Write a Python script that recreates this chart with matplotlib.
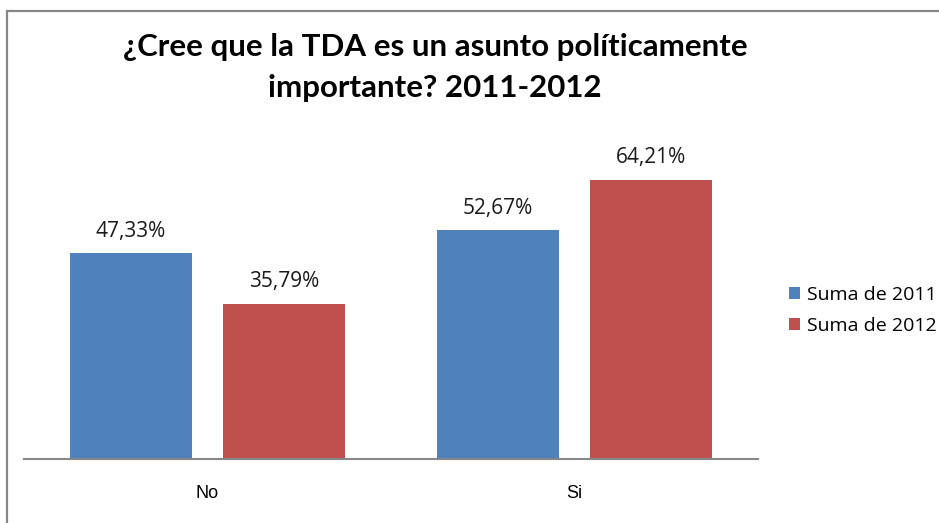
import matplotlib.pyplot as plt
from matplotlib.patches import Rectangle
import numpy as np

# Data
categories = ['No', 'Si']
series_names = ['Suma de 2011', 'Suma de 2012']
values_2011 = [47.33, 52.67]
values_2012 = [35.79, 64.21]
colors = ['#4F81BD', '#C0504D']

W, H = 939, 523
fig = plt.figure(figsize=(W / 100, H / 100), dpi=100)

# chart border (runs off right and bottom edges, like the source crop)
fig.patches.append(Rectangle((7 / W, -0.1), 1.2, 1 - 11 / H + 0.1,
                             transform=fig.transFigure, fill=False,
                             edgecolor='#878787', linewidth=1.6))

ax = fig.add_axes([24 / W, 1 - 459 / H, 734 / W, (459 - 155) / H])

x = np.arange(len(categories))
bar_w = 0.332
offset = 0.2085
for i, vals in enumerate([values_2011, values_2012]):
    pos = x + (i - 0.5) * 2 * offset
    bars = ax.bar(pos, vals, width=bar_w, color=colors[i], label=series_names[i])
    for b, v in zip(bars, vals):
        ax.annotate(f'{v:.2f}%'.replace('.', ','),
                    (b.get_x() + b.get_width() / 2, v),
                    xytext=(0, 16), textcoords='offset points',
                    ha='center', va='center', fontsize=15,
                    family='Open Sans', color='#1a1a1a')

ax.set_xlim(-0.5, 1.5)
ax.set_ylim(0, 70)
ax.set_yticks([])
ax.set_xticks(x)
ax.set_xticklabels(categories, family='Liberation Sans', fontsize=13)
ax.tick_params(axis='x', length=0, pad=19)
for s in ['top', 'right', 'left']:
    ax.spines[s].set_visible(False)
ax.spines['bottom'].set_color('#878787')
ax.spines['bottom'].set_linewidth(1.5)

fig.text(435 / W, 1 - 47 / H, '¿Cree que la TDA es un asunto políticamente',
         ha='center', va='center', fontsize=22.5, fontweight='bold', family='Lato')
fig.text(435 / W, 1 - 88 / H, 'importante? 2011-2012',
         ha='center', va='center', fontsize=22.5, fontweight='bold', family='Lato')

fig.legend(loc='upper left', bbox_to_anchor=(781 / W, 1 - 278 / H),
           frameon=False, prop={'family': 'Open Sans', 'size': 14},
           handlelength=0.57, handleheight=0.57, handletextpad=0.38,
           labelspacing=0.68, borderaxespad=0)

fig.savefig('out.png', dpi=100)
